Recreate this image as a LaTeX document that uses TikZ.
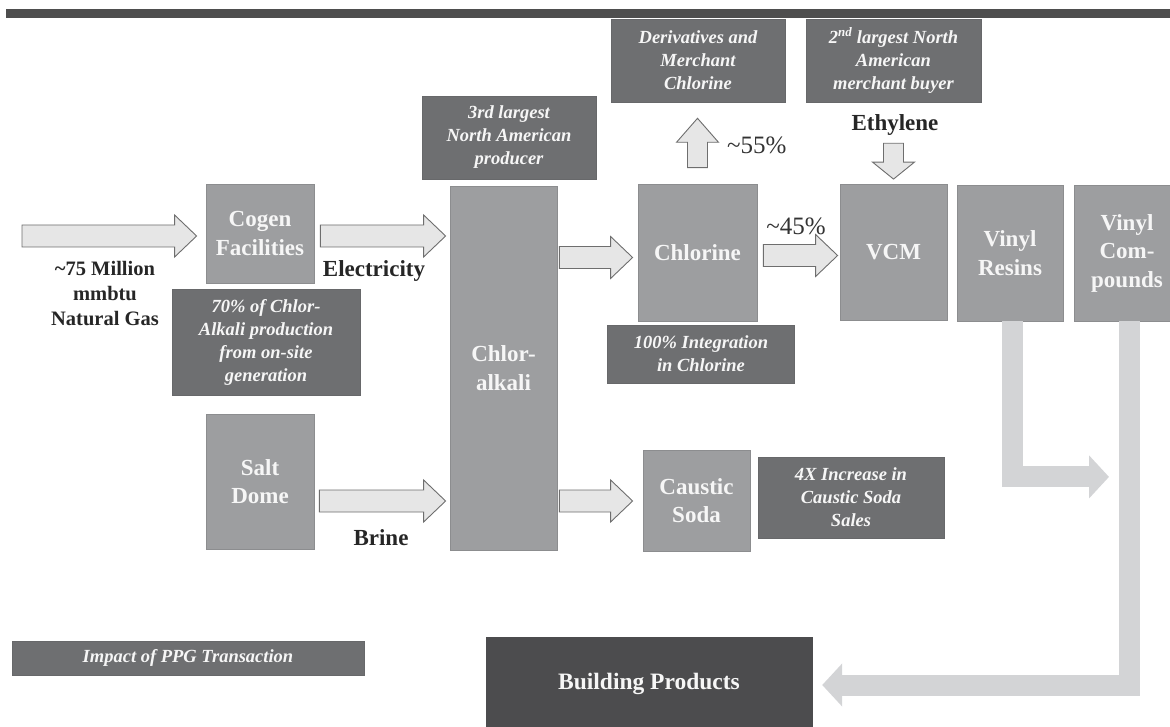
\documentclass[tikz,border=0pt]{standalone}
\usepackage{fontspec}
\setmainfont{Liberation Serif}
\usetikzlibrary{calc,arrows.meta}
\definecolor{boxgray}{HTML}{9D9EA0}
\definecolor{boxedge}{HTML}{8C8D8F}
\definecolor{darkbox}{HTML}{6E6F71}
\definecolor{darkedge}{HTML}{67686A}
\definecolor{buildbox}{HTML}{4C4C4E}
\definecolor{arrowfill}{HTML}{E6E6E6}
\definecolor{arrowedge}{HTML}{6E6E6E}
\definecolor{lgray}{HTML}{D3D4D6}
\definecolor{topbar}{HTML}{4E4E4E}
\definecolor{textwhite}{HTML}{F6F6F6}
\tikzset{
  mbox/.style={rectangle, fill=boxgray, draw=boxedge, line width=0.8pt, text=textwhite,
    align=center, inner sep=0pt, font=\fontsize{23}{28.5}\selectfont\bfseries},
  dbox/.style={rectangle, fill=darkbox, draw=darkedge, line width=0.6pt, text=textwhite,
    align=center, inner sep=0pt, font=\fontsize{18.5}{23}\selectfont\bfseries\itshape},
  lbl/.style={text=black!85, align=center, inner sep=0pt, font=\fontsize{23}{27}\selectfont\bfseries},
  gaslbl/.style={text=black!85, align=center, inner sep=0pt, font=\fontsize{20.5}{25}\selectfont\bfseries},
  pct/.style={text=black!80, inner sep=0pt, font=\fontsize{25}{28}\selectfont},
  barrow/.style={fill=arrowfill, draw=arrowedge, line width=0.9pt, line join=miter},
  larrow/.style={draw=lgray, line width=21pt, -{Triangle[width=42pt,length=20pt]}},
}
% horizontal block arrow: start #1, tip #2 (same y)
\newcommand\blockR[2]{%
  \draw[barrow] ($(#1)+(0,-11)$) -- ($(#2)+(-22,-11)$) -- ($(#2)+(-22,-21)$) -- (#2)
    -- ($(#2)+(-22,21)$) -- ($(#2)+(-22,11)$) -- ($(#1)+(0,11)$) -- cycle;}
% vertical block arrow: start #1, tip #2, #3 = signed offset of head base from tip
\newcommand\blockV[3]{%
  \draw[barrow] ($(#1)+(-10,0)$) -- ($(#2)+(-10,#3)$) -- ($(#2)+(-21,#3)$) -- (#2)
    -- ($(#2)+(21,#3)$) -- ($(#2)+(10,#3)$) -- ($(#1)+(10,0)$) -- cycle;}
\begin{document}
\begin{tikzpicture}[x=1pt,y=-1pt]
\useasboundingbox (0,0) rectangle (1170,727);
\fill[topbar] (6,9) rectangle (1172,18);

% main boxes
\node[mbox, minimum width=108, minimum height=99]  (cogen)     at (260,233.5) {Cogen\\Facilities};
\node[mbox, minimum width=108, minimum height=135] (salt)      at (260,481.5) {Salt\\Dome};
\node[mbox, minimum width=107, minimum height=364] (chlor)     at (503.5,368) {Chlor-\\alkali};
\node[mbox, minimum width=119, minimum height=137] (chlorine)  at (697.5,252.5) {Chlorine};
\node[mbox, minimum width=107, minimum height=101] (caustic)   at (696.5,500.5) {Caustic\\Soda};
\node[mbox, minimum width=107, minimum height=136] (vcm)       at (893.5,252.5) {VCM};
\node[mbox, minimum width=106, minimum height=136] (resins)    at (1010,253) {Vinyl\\Resins};
\node[mbox, minimum width=106, minimum height=136] (compounds) at (1127,253) {Vinyl\\Com-\\pounds};

% dark note boxes
\node[dbox, minimum width=188, minimum height=106] (alk70)  at (266,342) {70\% of Chlor-\\Alkali production\\from on-site\\generation};
\node[dbox, minimum width=174, minimum height=83]  (third)  at (509,137.5) {3rd largest\\North American\\producer};
\node[dbox, minimum width=174, minimum height=83]  (deriv)  at (698,60.5) {Derivatives and\\Merchant\\Chlorine};
\node[dbox, minimum width=175, minimum height=83]  (second) at (893.5,60.5) {2\textsuperscript{nd} largest North\\American\\merchant buyer};
\node[dbox, minimum width=187, minimum height=58]  (int100) at (701,354) {100\% Integration\\in Chlorine};
\node[dbox, minimum width=186, minimum height=81]  (sales)  at (851,497.5) {4X Increase in\\Caustic Soda\\Sales};
\node[dbox, minimum width=352, minimum height=34]  (impact) at (188,658) {Impact of PPG Transaction};
\node[rectangle, fill=buildbox, draw=buildbox, text=textwhite, inner sep=0pt,
      minimum width=326, minimum height=94, font=\fontsize{23.5}{28}\selectfont\bfseries]
      (building) at (649,684) {Building Products};

% free labels
\node[gaslbl] (gas) at (105,294) {\textasciitilde75 Million\\mmbtu\\Natural Gas};
\node[lbl] (elec)  at (374,271) {Electricity};
\node[lbl] (brine) at (381,538) {Brine};
\node[lbl] (eth)   at (895,125) {Ethylene};
\node[pct, anchor=west] (p55) at (727,145) {\textasciitilde55\%};
\node[pct] (p45) at (796,226) {\textasciitilde45\%};

% block arrows
\coordinate (gasin)  at (22,236);
\coordinate (gasout) at ($(cogen.west)+(-9,2.5)$);
\blockR{gasin}{gasout}
\coordinate (e1) at ($(cogen.east)+(6,2.5)$);
\coordinate (e2) at ($(e1 -| chlor.west)+(-4,0)$);
\blockR{e1}{e2}
\coordinate (c1) at ($(chlor.east |- chlorine.center)+(2,5)$);
\coordinate (c2) at ($(chlorine.west)+(-5,5)$);
\blockR{c1}{c2}
\coordinate (v1) at ($(chlorine.east)+(6,3)$);
\coordinate (v2) at ($(vcm.west)+(-2,3)$);
\blockR{v1}{v2}
\coordinate (b1) at ($(salt.east)+(5,19.5)$);
\coordinate (b2) at ($(b1 -| chlor.west)+(-4,0)$);
\blockR{b1}{b2}
\coordinate (s1) at ($(chlor.east |- caustic.center)+(2,0.5)$);
\coordinate (s2) at ($(caustic.west)+(-10,0.5)$);
\blockR{s1}{s2}
\coordinate (u1) at ($(chlorine.north)+(0,-16)$);
\coordinate (u2) at ($(u1 |- deriv.south)+(0,16)$);
\blockV{u1}{u2}{24}
\coordinate (d1) at ($(second.south)+(0,41)$);
\coordinate (d2) at ($(vcm.north)+(0,-5)$);
\blockV{d1}{d2}{-17}

% light L-shaped arrows
\coordinate (rtip) at ($(resins.south)+(99,155.5)$);
\draw[larrow] ($(resins.south)+(2,0)$) |- (rtip);
\draw[larrow] ($(compounds.south)+(2,0)$) |- ($(building.east)+(10,1)$);
\end{tikzpicture}
\end{document}
